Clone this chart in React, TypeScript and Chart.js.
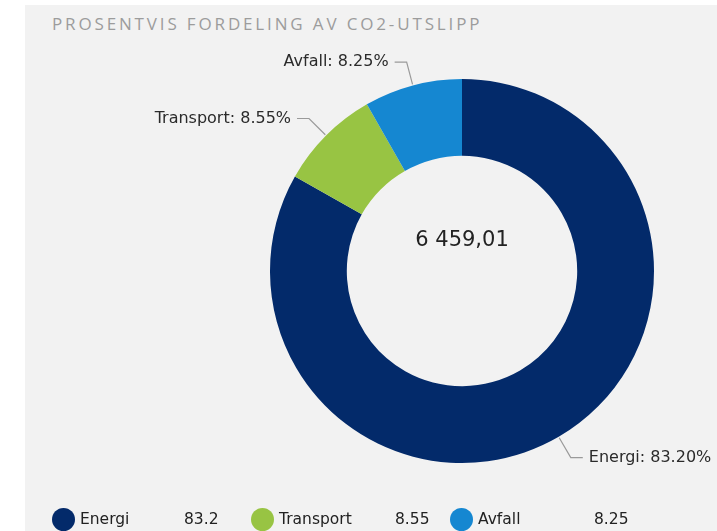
import React, { useEffect, useRef } from "react";
import { Chart, registerables } from "chart.js";

Chart.register(...registerables);

const titleText = "PROSENTVIS FORDELING AV CO2-UTSLIPP";
const categories = ["Energi", "Transport", "Avfall"];
const shares = [83.2, 8.55, 8.25];
const legendValues = ["83.2", "8.55", "8.25"];
const totalLabel = "6 459,01";
const colors = ["#032a6a", "#98c443", "#1587d1"];

const LABEL_FONT = "16px 'DejaVu Sans', Verdana, sans-serif";

const outsideLabels = {
  id: "outsideLabels",
  afterDatasetsDraw(chart: any) {
    const ctx = chart.ctx;
    const meta = chart.getDatasetMeta(0);
    ctx.save();
    meta.data.forEach((arc: any, i: number) => {
      const { x, y, startAngle, endAngle, outerRadius } = arc.getProps(
        ["x", "y", "startAngle", "endAngle", "outerRadius"],
        true
      );
      const mid = (startAngle + endAngle) / 2;
      const c = Math.cos(mid);
      const s = Math.sin(mid);
      const p0x = x + c * (outerRadius + 1);
      const p0y = y + s * (outerRadius + 1);
      const p1x = x + c * (outerRadius + 24);
      const p1y = y + s * (outerRadius + 24);
      const right = c >= 0;
      const p2x = p1x + (right ? 12 : -12);
      ctx.beginPath();
      ctx.strokeStyle = "#9a9a9a";
      ctx.lineWidth = 1.2;
      ctx.moveTo(p0x, p0y);
      ctx.lineTo(p1x, p1y);
      ctx.lineTo(p2x, p1y);
      ctx.stroke();
      ctx.font = LABEL_FONT;
      ctx.fillStyle = "#2b2b2b";
      ctx.textBaseline = "middle";
      ctx.textAlign = right ? "left" : "right";
      const txt = categories[i] + ": " + shares[i].toFixed(2) + "%";
      ctx.fillText(txt, p2x + (right ? 6 : -6), p1y);
    });
    const first = meta.data[0];
    if (first) {
      ctx.font = "21px 'DejaVu Sans', Verdana, sans-serif";
      ctx.fillStyle = "#222222";
      ctx.textAlign = "center";
      ctx.textBaseline = "middle";
      ctx.fillText(totalLabel, first.x, first.y - 30);
    }
    ctx.restore();
  },
};

export default function App() {
  const canvasRef = useRef<HTMLCanvasElement | null>(null);

  useEffect(() => {
    if (!canvasRef.current) return;
    const chart = new Chart(canvasRef.current, {
      type: "doughnut",
      data: {
        labels: categories,
        datasets: [
          {
            data: shares,
            backgroundColor: colors,
            borderWidth: 0,
          },
        ],
      },
      options: {
        animation: false,
        responsive: false,
        maintainAspectRatio: false,
        cutout: "60%",
        rotation: 0,
        layout: {
          padding: { left: 270, right: 63, top: 79, bottom: 68 },
        },
        plugins: {
          legend: { display: false },
          tooltip: { enabled: false },
          title: { display: false },
        },
      },
      plugins: [outsideLabels],
    });
    return () => chart.destroy();
  }, []);

  return (
    <div
      style={{
        position: "absolute",
        left: 0,
        top: 0,
        width: 717,
        height: 531,
        background: "#ffffff",
        overflow: "hidden",
      }}
    >
      <div
        style={{
          position: "absolute",
          left: 25,
          top: 5,
          width: 692,
          height: 526,
          background: "#f2f2f2",
        }}
      />
      <div
        style={{
          position: "absolute",
          left: 52,
          top: 12,
          fontFamily: "'Open Sans', sans-serif",
          fontSize: 17,
          letterSpacing: "2.85px",
          color: "#9c9c9c",
          whiteSpace: "nowrap",
          lineHeight: "24px",
        }}
      >
        {titleText}
      </div>
      <canvas
        ref={canvasRef}
        width={717}
        height={531}
        style={{ position: "absolute", left: 0, top: 0, width: 717, height: 531 }}
      />
      {categories.map((cat, i) => (
        <div
          key={cat}
          style={{
            position: "absolute",
            left: 52 + i * 199,
            top: 507,
            height: 24,
            width: 190,
            fontFamily: "'DejaVu Sans', Verdana, sans-serif",
            fontSize: 15.5,
            color: "#222222",
            lineHeight: "24px",
            whiteSpace: "nowrap",
          }}
        >
          <span
            style={{
              position: "absolute",
              left: 0,
              top: 1,
              width: 23,
              height: 23,
              borderRadius: "50%",
              background: colors[i],
            }}
          />
          <span style={{ position: "absolute", left: 28, top: 0 }}>{cat}</span>
          <span style={{ position: "absolute", left: i === 0 ? 132 : 144, top: 0 }}>
            {legendValues[i]}
          </span>
        </div>
      ))}
    </div>
  );
}
